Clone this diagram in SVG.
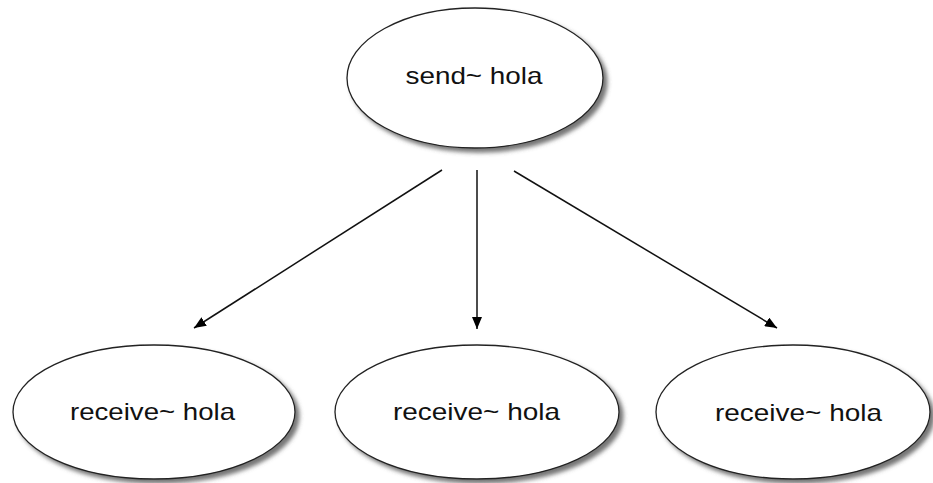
<svg xmlns="http://www.w3.org/2000/svg" width="933" height="483" viewBox="0 0 933 483">
<style>
.node ellipse{fill:#fff;stroke:#222;stroke-width:1.3;filter:url(#sh)}
.node text{font-family:"Liberation Sans",Arial,sans-serif;font-size:24px;fill:#111;text-anchor:middle}
.edge{stroke:#111;stroke-width:1.5;fill:none;marker-end:url(#ah)}
</style>
<defs>
<filter id="sh" x="-10%" y="-10%" width="125%" height="130%">
<feDropShadow dx="4" dy="4" stdDeviation="2" flood-color="#555" flood-opacity="0.8"/>
</filter>
<marker id="ah" viewBox="0 0 12 10" refX="12" refY="5" markerWidth="12" markerHeight="10" markerUnits="userSpaceOnUse" orient="auto">
<path d="M0,0 L12,5 L0,10 Z" fill="#000"/>
</marker>
</defs>
<rect width="933" height="483" fill="#fff"/>
<g id="connectors">
<line class="edge" x1="442" y1="170" x2="194" y2="328"/>
<line class="edge" x1="477" y1="170" x2="477" y2="329"/>
<line class="edge" x1="514" y1="171" x2="777" y2="328"/>
</g>
<g id="send" class="node">
<ellipse cx="475" cy="78" rx="128" ry="70"/>
<text x="474" y="84" textLength="137" lengthAdjust="spacingAndGlyphs">send~ hola</text>
</g>
<g id="receive1" class="node">
<ellipse cx="154" cy="412" rx="141" ry="67"/>
<text x="152.5" y="420" textLength="165" lengthAdjust="spacingAndGlyphs">receive~ hola</text>
</g>
<g id="receive2" class="node">
<ellipse cx="477" cy="412" rx="142" ry="67"/>
<text x="476.5" y="420" textLength="167" lengthAdjust="spacingAndGlyphs">receive~ hola</text>
</g>
<g id="receive3" class="node">
<ellipse cx="793" cy="412" rx="137" ry="67"/>
<text x="798.5" y="421" textLength="167" lengthAdjust="spacingAndGlyphs">receive~ hola</text>
</g>
</svg>
